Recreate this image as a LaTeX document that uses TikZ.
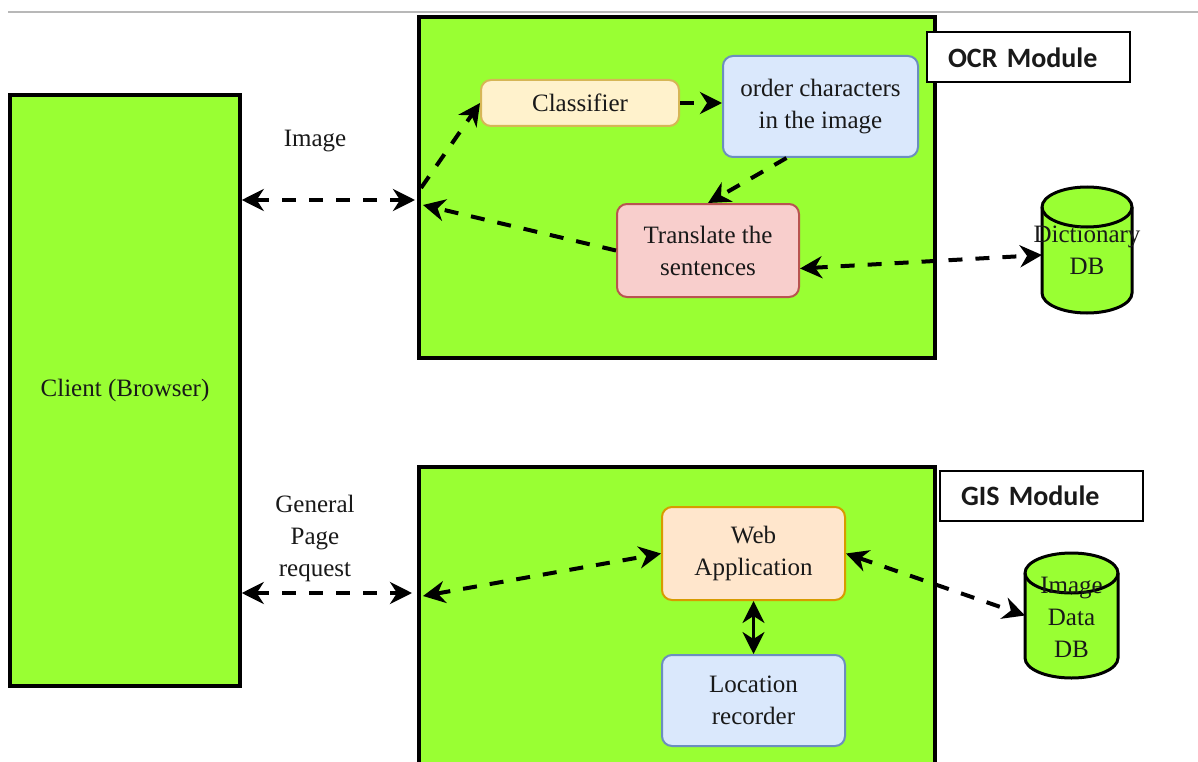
\documentclass[tikz,border=0pt]{standalone}
\usepackage{fontspec}
\setmainfont{Liberation Serif}
\newfontfamily\lblfont{Carlito}
\usetikzlibrary{arrows.meta}
\definecolor{grn}{HTML}{99FF33}
\definecolor{ylwF}{HTML}{FFF2CC}\definecolor{ylwD}{HTML}{D6B656}
\definecolor{bluF}{HTML}{DAE8FC}\definecolor{bluD}{HTML}{6C8EBF}
\definecolor{redF}{HTML}{F8CECC}\definecolor{redD}{HTML}{B85450}
\definecolor{orgF}{HTML}{FFE6CC}\definecolor{orgD}{HTML}{D79B00}
\begin{document}
\begin{tikzpicture}[x=1pt,y=-1pt,
  >={Stealth[length=22pt,width=22pt,inset=7pt]},
  every node/.style={font=\fontsize{25}{32}\selectfont, text=black!90},
  bigbox/.style={draw=black, fill=grn, line width=3.5pt, inner sep=0pt},
  inbox/.style={rounded corners=10pt, line width=2pt, inner sep=0pt, align=center},
  dsh/.style={line width=4pt, dash pattern=on 14pt off 13pt},
  lblbox/.style={draw=black, fill=white, line width=2pt, minimum height=50pt,
     text width=161pt, inner xsep=21pt, inner ysep=0pt, align=left,
     font=\lblfont\bfseries\fontsize{28}{32}\selectfont},
  cyl/.style={draw=black, fill=grn, line width=3pt},
  dbnode/.style={inner sep=0pt, outer sep=0pt, align=center},
]
\useasboundingbox (0,0) rectangle (1198,762);
\clip (0,0) rectangle (1198,762);
\fill[white] (0,0) rectangle (1198,762);

% top rule
\draw[line width=2pt, black!28] (8,12) -- (1198,12);

% main boxes
\node[bigbox, minimum width=230pt, minimum height=591pt] (client) at (125,390.5) {Client (Browser)};
\node[bigbox, minimum width=516pt, minimum height=341pt] (ocr) at (677,187.5) {};
\node[bigbox, minimum width=516pt, minimum height=306pt] (gis) at (677,620) {};

% OCR inner boxes
\node[inbox, fill=ylwF, draw=ylwD, minimum width=198pt, minimum height=46pt] (cls) at (580,103) {Classifier};
\node[inbox, fill=bluF, draw=bluD, minimum width=195pt, minimum height=101pt] (ord) at (820.5,106.5) {order characters\\in the image};
\node[inbox, fill=redF, draw=redD, minimum width=182pt, minimum height=93pt] (trans) at (708,250.5) {Translate the\\sentences};

% GIS inner boxes
\node[inbox, fill=orgF, draw=orgD, minimum width=183pt, minimum height=93pt] (web) at (753.5,553.5) {Web\\Application};
\node[inbox, fill=bluF, draw=bluD, minimum width=183pt, minimum height=91pt] (loc) at (753.5,700.5) {Location\\recorder};

% databases
\node[dbnode, minimum width=90pt, minimum height=126pt] (dict) at (1087,250) {};
\draw[cyl] ([yshift=-20pt]dict.north west) -- ([yshift=20pt]dict.south west)
  arc[start angle=180, end angle=360, x radius=45pt, y radius=20pt]
  -- ([yshift=-20pt]dict.north east)
  arc[start angle=0, end angle=180, x radius=45pt, y radius=20pt] -- cycle;
\draw[cyl, fill=none] ([yshift=-20pt]dict.north west)
  arc[start angle=180, end angle=360, x radius=45pt, y radius=20pt];
\node[dbnode] (dicttxt) at (dict.center) {Dictionary\\DB};

\node[dbnode, minimum width=93pt, minimum height=125pt] (imgdb) at (1071.5,615.5) {};
\draw[cyl] ([yshift=-20pt]imgdb.north west) -- ([yshift=20pt]imgdb.south west)
  arc[start angle=180, end angle=360, x radius=46.5pt, y radius=20pt]
  -- ([yshift=-20pt]imgdb.north east)
  arc[start angle=0, end angle=180, x radius=46.5pt, y radius=20pt] -- cycle;
\draw[cyl, fill=none] ([yshift=-20pt]imgdb.north west)
  arc[start angle=180, end angle=360, x radius=46.5pt, y radius=20pt];
\node[dbnode] (imgdbtxt) at ([yshift=-2pt]imgdb.center) {Image\\Data\\DB};

% free ends
\coordinate (o1) at (415,200);
\coordinate (o2) at (421,188);
\coordinate (o3) at (423,205);
\coordinate (g1) at (412,593);
\coordinate (g2) at (423,596);

% connectors
\draw[dsh, <->] (client.east |- o1) -- (o1);
\draw[dsh, <->] (client.east |- g1) -- (g1);
\draw[dsh, ->] (o2) -- (cls.west);
\draw[dsh, ->] (cls.east) -- (cls.east -| ord.west);
\draw[dsh, ->] ([xshift=-34pt]ord.south) -- (trans.north);
\draw[dsh, ->] (trans.west) -- (o3);
\draw[dsh, <->] ([yshift=-18pt]trans.east) -- ([yshift=-5pt]dict.west);
\draw[dsh, <->] (g2) -- (web.west);
\draw[dsh, <->] (web.east) -- (imgdb.west);
\draw[line width=3pt, <->] (web.south) -- (loc.north);

% labels
\node (imglbl) at (315,141) {Image};
\node[align=center] (gprlbl) at (315,538) {General\\Page\\request};

\node[lblbox] (ocrlbl) at (1028.5,57.5) {OCR Module};
\node[lblbox] (gislbl) at (1041.5,496) {GIS Module};
\end{tikzpicture}
\end{document}
